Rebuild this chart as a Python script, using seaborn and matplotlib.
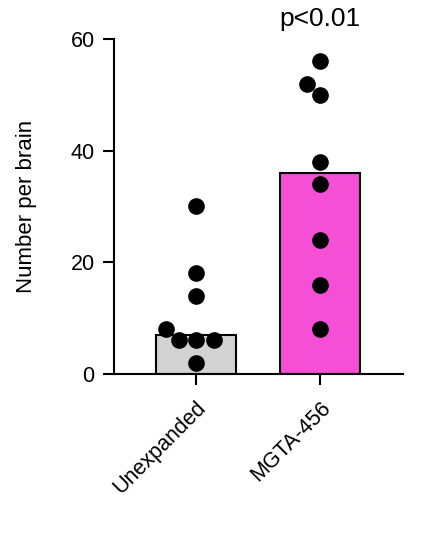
import numpy as np
import pandas as pd
import matplotlib
matplotlib.use("Agg")
import matplotlib.pyplot as plt
import seaborn as sns

groups = ["Unexpanded", "MGTA-456"]
unexpanded = [30, 18, 14, 8, 6, 6, 6, 2]
mgta = [56, 52, 50, 38, 34, 24, 16, 8]
bar_colors = ["#D3D3D3", "#F54FD6"]
yticks = [0, 20, 40, 60]
p_label = "p<0.01"

df = pd.DataFrame({
    "group": [groups[0]] * len(unexpanded) + [groups[1]] * len(mgta),
    "value": unexpanded + mgta,
})

sns.set_style("ticks")
plt.rcParams["font.family"] = ["Liberation Sans", "DejaVu Sans"]
plt.rcParams["text.color"] = "black"
plt.rcParams["axes.labelcolor"] = "black"
plt.rcParams["xtick.color"] = "black"
plt.rcParams["ytick.color"] = "black"

fig = plt.figure(figsize=(4.21, 5.38), dpi=100)
ax = fig.add_axes([0.271, 0.305, 0.686, 0.6225])

# bars show the median
sns.barplot(data=df, x="group", y="value", hue="group", order=groups,
            palette=bar_colors, saturation=1, estimator=np.median, errorbar=None,
            width=0.645, edgecolor="black", linewidth=1.5, legend=False, ax=ax)
sns.swarmplot(data=df, x="group", y="value", order=groups, color="black",
              size=12, ax=ax)

ax.set_ylim(0, 60)
ax.set_xlim(-0.661, 1.669)
ax.set_yticks(yticks)
ax.set_xlabel("")
ax.set_ylabel("Number per brain", fontsize=16, labelpad=24)
ax.tick_params(axis="both", width=1.5, length=8, labelsize=15.5)
ax.tick_params(axis="y", pad=6)
ax.tick_params(axis="x", pad=9)
ax.set_xticks(range(len(groups)))
ax.set_xticklabels(groups, rotation=45, ha="right", rotation_mode="anchor")
for s in ["left", "bottom"]:
    ax.spines[s].set_linewidth(1.5)
    ax.spines[s].set_color("black")
sns.despine(ax=ax)

ax.text(1, 61.5, p_label, ha="center", va="bottom", fontsize=19, clip_on=False)

fig.savefig("out.png", dpi=100)
